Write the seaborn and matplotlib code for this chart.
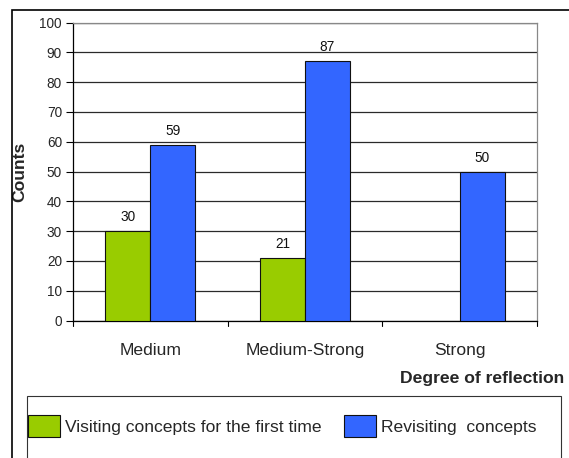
import numpy as np
import pandas as pd
import matplotlib
matplotlib.use("Agg")
import matplotlib.pyplot as plt
from matplotlib.patches import Rectangle, Patch
import seaborn as sns

categories = ["Medium", "Medium-Strong", "Strong"]
first_time = [30, 21, None]
revisiting = [59, 87, 50]
series_names = ["Visiting concepts for the first time", "Revisiting  concepts"]
colors = ["#99CC00", "#3366FF"]
y_ticks = list(range(0, 101, 10))

sns.set_style("white")
plt.rcParams["font.family"] = ["Liberation Sans", "DejaVu Sans"]

rows = []
for cat, v1, v2 in zip(categories, first_time, revisiting):
    if v1 is not None:
        rows.append((cat, series_names[0], v1))
    rows.append((cat, series_names[1], v2))
df = pd.DataFrame(rows, columns=["category", "series", "count"])

W, H = 569, 458
fig = plt.figure(figsize=(W / 100, H / 100), dpi=100)
ax = fig.add_axes([73 / W, 1 - 320.5 / H, (537 - 73) / W, (320.5 - 22.5) / H])

sns.barplot(data=df, x="category", y="count", hue="series", order=categories,
            hue_order=series_names, palette=colors, width=0.58, gap=0,
            edgecolor="#111111", linewidth=0.8, saturation=1, ax=ax, legend=False, zorder=3)

for container in ax.containers:
    labels = [f"{int(b.get_height())}" if b.get_height() > 0 else "" for b in container]
    ax.bar_label(container, labels=labels, padding=5, fontsize=9.8, color="#111111")

ax.set_ylim(0, 100)
ax.set_xlim(-0.5, 2.5)
ax.set_yticks(y_ticks)
ax.set_yticklabels([str(t) for t in y_ticks], fontsize=9.8)
ax.yaxis.grid(True, color="#2a2a2a", linewidth=0.9, zorder=0)
ax.set_axisbelow(True)

ax.set_xticks([0, 1, 2])
ax.set_xticklabels(categories, fontsize=12.6)
ax.tick_params(axis="x", length=0, pad=16)
ax.tick_params(axis="y", length=5, width=0.8, direction="out", left=True, color="black", pad=3)
for xb in [-0.5, 0.5, 1.5, 2.5]:
    ax.plot([xb, xb], [0, -1.8], color="black", lw=0.8, clip_on=False)

for side in ["left", "bottom"]:
    ax.spines[side].set_color("black")
    ax.spines[side].set_linewidth(0.9)
for side in ["top", "right"]:
    ax.spines[side].set_color("#888888")
    ax.spines[side].set_linewidth(0.9)

ax.set_xlabel("")
ax.set_ylabel("Counts", fontsize=12.6, fontweight="bold")
ax.yaxis.set_label_coords((27 - 73) / (537 - 73), 0.5)

fig.text(564 / W, 1 - 379 / H, "Degree of reflection", ha="right", va="center",
         fontsize=12.6, fontweight="bold")

# outer chart frame
fig.add_artist(Rectangle((12 / W, -0.1), 1.2, 1 - 10 / H + 0.1, transform=fig.transFigure,
                         fill=False, edgecolor="black", linewidth=1.2))
# legend frame
fig.add_artist(Rectangle((27 / W, -0.1), (561 - 27) / W, 1 - 396 / H + 0.1,
                         transform=fig.transFigure, fill=False, edgecolor="#333333", linewidth=0.8))

handles = [Patch(facecolor=c, edgecolor="#111111", linewidth=0.8) for c in colors]
fig.legend(handles, series_names, loc="center left", bbox_to_anchor=(28 / W, 1 - 426 / H),
           ncol=2, frameon=False, fontsize=12.6, handlelength=1.8, handleheight=1.5,
           handletextpad=0.3, columnspacing=1.3, borderaxespad=0, borderpad=0)

fig.savefig("out.png", dpi=100)
